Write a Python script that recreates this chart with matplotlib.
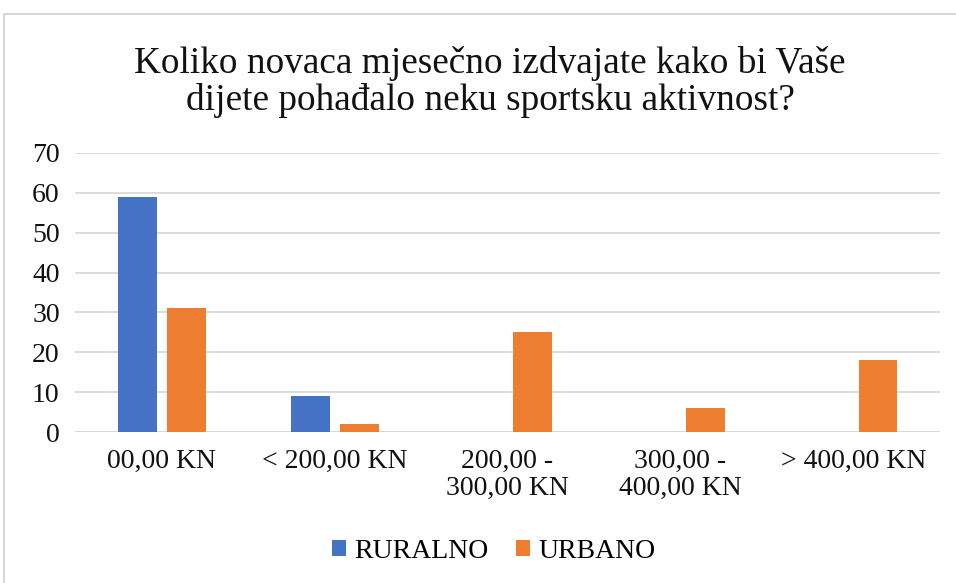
import numpy as np
import matplotlib.pyplot as plt
from matplotlib.patches import Rectangle

# ---------------------------------------------------------------------------
# Data
# ---------------------------------------------------------------------------

CATEGORIES = ["00,00 KN", "< 200,00 KN", "200,00 -\n300,00 KN",
              "300,00 -\n400,00 KN", "> 400,00 KN"]
RURALNO = [59, 9, 0, 0, 0]
URBANO = [31, 2, 25, 6, 18]
SERIES_NAMES = ["RURALNO", "URBANO"]
Y_TICKS = [0, 10, 20, 30, 40, 50, 60, 70]

TITLE = "Koliko novaca mjesečno izdvajate kako bi Vaše\ndijete pohađalo neku sportsku aktivnost?"

BLUE = "#4472C4"
ORANGE = "#ED7D31"
GRID = "#D9D9D9"

W, H = 956, 583

plt.rcParams["font.family"] = ["Liberation Serif", "DejaVu Serif"]

fig = plt.figure(figsize=(W / 100, H / 100), dpi=100)
fig.patch.set_facecolor("white")

# Chart border (cut off on right and bottom, as in the screenshot)
fig.patches.append(Rectangle((4 / W, -0.1), 1.2, 1.1 - 14 / H,
                             transform=fig.transFigure, fill=False,
                             edgecolor="#D0D0D0", linewidth=1.2))

ax = fig.add_axes([75 / W, 1 - 432 / H, (940 - 75) / W, (432 - 153) / H])

x = np.arange(len(CATEGORIES))
bw = 39 / 173
off = 24.5 / 173
ax.bar(x - off, RURALNO, width=bw, color=BLUE, label=SERIES_NAMES[0], zorder=3)
ax.bar(x + off, URBANO, width=bw, color=ORANGE, label=SERIES_NAMES[1], zorder=3)

ax.set_xlim(-0.5, len(CATEGORIES) - 0.5)
ax.set_ylim(0, 70)
ax.set_yticks(Y_TICKS)
ax.set_yticklabels([str(v) for v in Y_TICKS], fontsize=20)
ax.set_xticks(x)
ax.set_xticklabels(CATEGORIES, fontsize=20, linespacing=1.1)
ax.tick_params(axis="both", length=0, colors="#111111")
ax.tick_params(axis="x", pad=12)
ax.tick_params(axis="y", pad=11)

ax.yaxis.grid(True, color=GRID, linewidth=1.3, zorder=0)
for s in ax.spines.values():
    s.set_visible(False)
ax.axhline(0, color=GRID, linewidth=1.3, zorder=2)

fig.text(490 / W, 1 - 82 / H, TITLE, ha="center", va="center",
         fontsize=26.8, color="#111111", linespacing=1.06)

ax.legend(loc="center", bbox_to_anchor=((494 - 75) / 865, (432 - 551) / (432 - 153)),
          ncol=2, frameon=False, fontsize=20, handlelength=0.5,
          handleheight=0.5, handletextpad=0.3, columnspacing=1.0)

fig.savefig("out.png", dpi=100, facecolor="white")
